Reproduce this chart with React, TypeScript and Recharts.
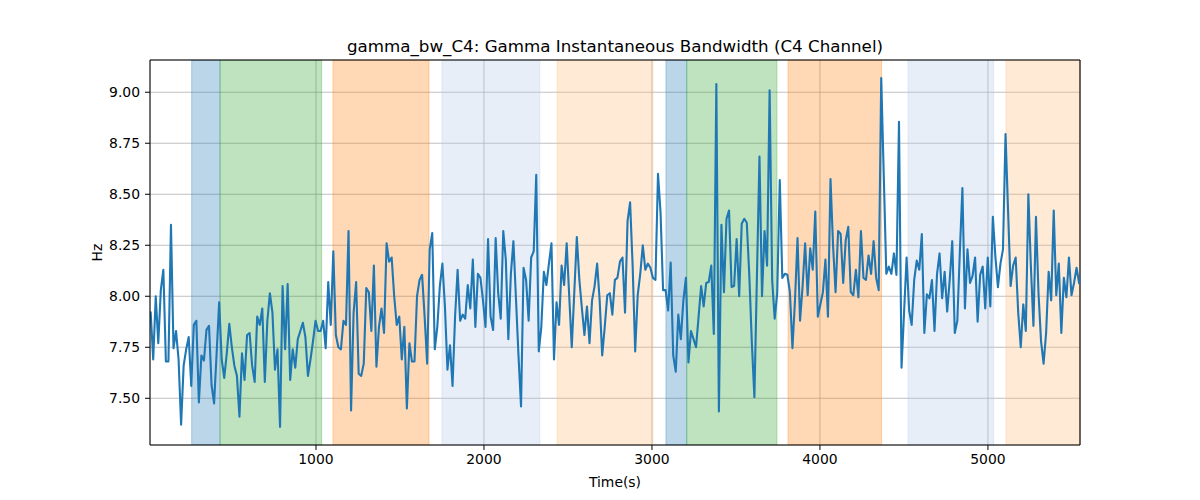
import React from "react";
import { LineChart, Line, XAxis, YAxis, CartesianGrid, ReferenceArea, ReferenceLine } from "recharts";

const title = "gamma_bw_C4: Gamma Instantaneous Bandwidth (C4 Channel)";
const xLabel = "Time(s)";
const yLabel = "Hz";

const xTicks = [1000, 2000, 3000, 4000, 5000];
const yTicks = [7.5, 7.75, 8.0, 8.25, 8.5, 8.75, 9.0];
const xDomain = [12, 5548];
const yDomain = [7.271, 9.158];

const timeStart = 16;
const timeStep = 15.1;

const hzValues = [
  7.92, 7.69, 8.0, 7.77, 8.03, 8.13, 7.68, 7.68, 8.35, 7.745, 7.83, 7.69, 7.37, 7.66, 7.74, 7.8, 7.56, 7.86, 7.88, 7.48, 7.71, 7.685, 7.835, 7.855, 7.565, 7.475, 7.72, 7.97, 7.69, 7.6, 7.72, 7.865, 7.75, 7.66, 7.61, 7.41, 7.72, 7.59, 7.81, 7.82, 7.66, 7.58,
  7.9, 7.86, 7.94, 7.58, 7.88, 8.015, 7.92, 7.64, 7.74, 7.36, 8.05, 7.74, 8.06, 7.59, 7.74, 7.65, 7.79, 7.83, 7.87, 7.8, 7.61, 7.69, 7.78, 7.88, 7.83, 7.83, 7.88, 7.745, 8.07, 7.86, 8.22, 7.81, 7.75, 7.74, 7.88, 7.86, 8.32, 7.44, 7.92, 8.07,
  7.62, 7.61, 7.67, 8.04, 8.02, 7.83, 8.15, 7.655, 7.85, 7.94, 7.82, 8.26, 8.17, 8.19, 8.0, 7.86, 7.9, 7.69, 7.85, 7.45, 7.77, 7.68, 7.68, 8.0, 8.08, 8.105, 7.9, 7.67, 8.23, 8.31, 7.74, 7.85, 8.05, 8.16, 7.95, 7.64, 7.76, 7.56, 7.9, 8.13, 7.88,
  7.91, 7.89, 8.055, 7.94, 8.18, 7.85, 8.11, 8.09, 7.98, 7.85, 8.28, 7.9, 7.835, 8.285, 8.015, 7.89, 8.32, 8.18, 7.79, 8.11, 8.27, 7.99, 7.71, 7.46, 8.14, 8.08, 7.88, 8.19, 8.22, 8.595, 7.73, 7.85, 8.12, 8.055, 8.16, 8.26, 7.69, 7.97, 7.86, 8.15, 8.055,
  8.26, 8.0, 7.75, 8.02, 8.29, 8.08, 7.94, 7.81, 7.95, 7.77, 7.98, 8.05, 8.16, 7.98, 7.71, 7.85, 8.005, 8.015, 7.91, 8.08, 8.09, 8.17, 8.19, 7.92, 8.37, 8.46, 8.15, 7.73, 8.005, 8.11, 8.25, 8.13, 8.16, 8.14, 8.09, 8.08, 8.6, 8.41, 8.03, 8.03, 7.93,
  8.165, 7.71, 7.63, 7.91, 7.79, 7.98, 8.09, 7.675, 7.83, 7.79, 7.75, 7.9, 8.05, 7.95, 8.065, 8.07, 8.15, 7.815, 9.04, 7.435, 8.35, 8.02, 8.38, 8.42, 8.045, 8.05, 8.28, 8.0, 8.355, 8.38, 8.36, 8.1, 7.77, 7.505, 8.1, 8.685, 8.0, 8.32, 8.15, 9.01,
  8.08, 7.89, 8.015, 8.57, 8.09, 8.11, 8.105, 8.02, 7.745, 7.98, 8.285, 7.88, 8.05, 8.26, 8.005, 8.235, 8.13, 8.415, 7.9, 7.96, 8.02, 8.18, 7.9, 8.575, 8.25, 8.02, 8.32, 8.305, 8.065, 8.275, 8.34, 8.02, 8.005, 8.13, 7.995, 8.32, 8.09, 8.08, 8.2, 8.11, 8.27,
  8.09, 8.03, 9.07, 8.59, 8.11, 8.145, 8.11, 8.21, 8.105, 8.855, 7.65, 7.92, 8.19, 7.93, 7.86, 8.08, 8.175, 8.13, 8.305, 7.82, 8.01, 7.99, 8.08, 7.83, 8.11, 8.21, 7.99, 8.12, 7.925, 8.08, 8.27, 7.82, 7.88, 8.22, 8.53, 7.94, 8.23, 8.065, 8.1, 8.19, 7.875,
  8.105, 8.145, 7.94, 8.19, 7.95, 8.39, 8.195, 8.045, 8.16, 8.23, 8.795, 8.42, 8.05, 8.15, 8.19, 7.92, 7.75, 7.96, 7.83, 8.5, 8.145, 7.855, 8.39, 8.015, 7.78, 7.67, 7.82, 8.12, 7.98, 8.42, 8.005, 8.16, 7.82, 8.09, 7.995, 8.19, 8.005, 8.065, 8.14, 8.065,
];

const bandStarts = [260, 429, 1101, 1750, 2435, 3083, 3207, 3810, 4524, 5107];
const bandEnds = [429, 1034, 1673, 2333, 3006, 3207, 3744, 4367, 5034, 5548];
const bandColors = ["#1f77b4", "#2ca02c", "#ff7f0e", "#aec7e8", "#ffbb78", "#1f77b4", "#2ca02c", "#ff7f0e", "#aec7e8", "#ffbb78"];

const data = hzValues.map((v, i) => ({ t: timeStart + i * timeStep, v }));

const FONT = "DejaVu Sans, sans-serif";

export default function App() {
  return (
    <div style={{ position: "absolute", left: 0, top: 0, width: 1200, height: 500, background: "#fff" }}>
      <LineChart width={1200} height={500} data={data} margin={{ top: 60, right: 120, bottom: 10, left: 90 }}>
        <CartesianGrid stroke="#b0b0b0" strokeWidth={0.8} />
        {bandStarts.map((s, i) => (
          <ReferenceArea
            key={i}
            x1={s}
            x2={bandEnds[i]}
            fill={bandColors[i]}
            fillOpacity={0.3}
            stroke={bandColors[i]}
            strokeOpacity={0.3}
            strokeWidth={1}
            ifOverflow="hidden"
          />
        ))}
        <XAxis
          dataKey="t"
          type="number"
          domain={xDomain}
          ticks={xTicks}
          allowDataOverflow
          height={45}
          stroke="#000"
          tickSize={5}
          tickMargin={4}
          tick={{ fill: "#000", fontSize: 13.9, fontFamily: FONT }}
        />
        <YAxis
          type="number"
          domain={yDomain}
          ticks={yTicks}
          allowDataOverflow
          width={60}
          stroke="#000"
          tickSize={5}
          tickMargin={5}
          tickFormatter={(v) => Number(v).toFixed(2)}
          tick={{ fill: "#000", fontSize: 13.9, fontFamily: FONT }}
        />
        <ReferenceLine y={yDomain[1]} stroke="#000" strokeWidth={1.1} />
        <ReferenceLine x={xDomain[1]} stroke="#000" strokeWidth={1.1} />
        <Line
          type="linear"
          dataKey="v"
          stroke="#1f77b4"
          strokeWidth={2.1}
          strokeLinejoin="round"
          strokeLinecap="square"
          dot={false}
          activeDot={false}
          isAnimationActive={false}
        />
        <text x={615} y={52} textAnchor="middle" fontFamily={FONT} fontSize={16.7} fill="#000">
          {title}
        </text>
        <text x={615} y={487} textAnchor="middle" fontFamily={FONT} fontSize={13.9} fill="#000">
          {xLabel}
        </text>
        <text
          x={102}
          y={252.5}
          textAnchor="middle"
          fontFamily={FONT}
          fontSize={13.9}
          fill="#000"
          transform="rotate(-90, 102, 252.5)"
        >
          {yLabel}
        </text>
      </LineChart>
    </div>
  );
}
